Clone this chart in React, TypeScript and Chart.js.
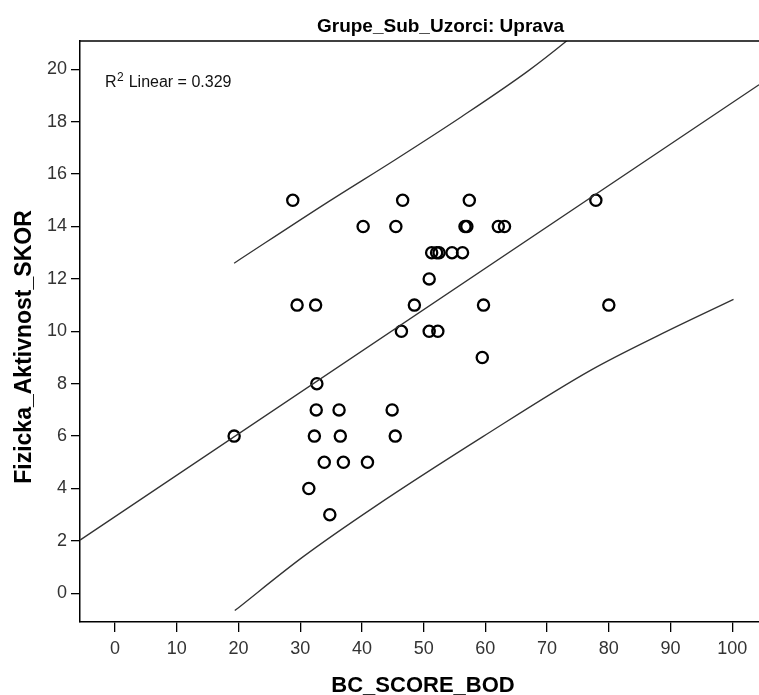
import React, { useEffect, useRef } from "react";
import { Chart, registerables } from "chart.js";

Chart.register(...registerables);

// ---- data ----
const scoreBod = [
  28.8, 46.6, 57.4, 77.9, 40.2, 45.5, 56.7, 57.0, 62.1, 63.1, 51.3, 52.1, 52.5,
  54.6, 56.3, 50.9, 29.5, 32.5, 48.5, 59.7, 80.0, 46.4, 50.9, 52.3, 59.5, 32.7,
  32.6, 36.3, 44.9, 19.3, 32.3, 36.5, 45.4, 33.9, 37.0, 40.9, 31.4, 34.8,
];
const aktivnostSkor = [
  15, 15, 15, 15, 14, 14, 14, 14, 14, 14, 13, 13, 13, 13, 13, 12, 11, 11, 11,
  11, 11, 10, 10, 10, 9, 8, 7, 7, 7, 6, 6, 6, 6, 5, 5, 5, 4, 3,
];

const fitX = [-5.67, 104.33];
const fitY = [2.03, 19.41];

const upperX = [19.3, 34.6, 45.4, 56.2, 67.0, 73.2, 74.0];
const upperY = [12.6, 14.95, 16.55, 18.2, 19.95, 21.09, 21.25];

const lowerX = [19.4, 30.5, 42.1, 59.6, 77.1, 88.7, 100.2];
const lowerY = [-0.66, 1.4, 3.31, 5.98, 8.52, 9.92, 11.22];

const xTicks = [0, 10, 20, 30, 40, 50, 60, 70, 80, 90, 100];
const yTicks = [0, 2, 4, 6, 8, 10, 12, 14, 16, 18, 20];

const chartTitle = "Grupe_Sub_Uzorci: Uprava";
const xTitle = "BC_SCORE_BOD";
const yTitle = "Fizicka_Aktivnost_SKOR";
const r2Label = "0.329";

const FONT = "'Liberation Sans', Arial, sans-serif";

const pts = (xs: number[], ys: number[]) => xs.map((x, i) => ({ x, y: ys[i] }));

const textPlugin = {
  id: "spssText",
  afterDraw(chart: any) {
    const { ctx, chartArea } = chart;
    ctx.save();
    // top frame line
    ctx.strokeStyle = "#000";
    ctx.lineWidth = 1.5;
    ctx.beginPath();
    ctx.moveTo(chartArea.left, chartArea.top);
    ctx.lineTo(chartArea.right, chartArea.top);
    ctx.stroke();

    ctx.fillStyle = "#000";
    // title
    ctx.font = `bold 19px ${FONT}`;
    ctx.textAlign = "center";
    ctx.textBaseline = "alphabetic";
    ctx.fillText(chartTitle, 440.5, 31.5);
    // x title
    ctx.font = `bold 22px ${FONT}`;
    ctx.fillText(xTitle, 423, 691.5);
    // y title
    ctx.save();
    ctx.translate(31, 347);
    ctx.rotate(-Math.PI / 2);
    ctx.font = `bold 23px ${FONT}`;
    ctx.fillText(yTitle, 0, 0);
    ctx.restore();
    // R^2 label
    ctx.textAlign = "left";
    ctx.font = `16px ${FONT}`;
    ctx.fillStyle = "#111";
    let x = 105;
    const base = 86.5;
    ctx.fillText("R", x, base);
    x += ctx.measureText("R").width + 0.5;
    ctx.font = `12px ${FONT}`;
    ctx.fillText("2", x, base - 6);
    x += ctx.measureText("2").width + 0.5;
    ctx.font = `16px ${FONT}`;
    ctx.fillText(" Linear = " + r2Label, x, base);
    ctx.restore();
  },
};

export default function App() {
  const ref = useRef<HTMLCanvasElement | null>(null);

  useEffect(() => {
    if (!ref.current) return;
    const lineStyle = {
      showLine: true,
      borderColor: "#333",
      borderWidth: 1.3,
      pointRadius: 0,
      pointHoverRadius: 0,
      fill: false,
      cubicInterpolationMode: "monotone" as const,
    };
    const chart = new Chart(ref.current, {
      type: "scatter",
      data: {
        datasets: [
          { ...lineStyle, data: pts(fitX, fitY) },
          { ...lineStyle, data: pts(upperX, upperY) },
          { ...lineStyle, data: pts(lowerX, lowerY) },
          {
            data: pts(scoreBod, aktivnostSkor),
            showLine: false,
            pointRadius: 5.6,
            pointBorderWidth: 2.3,
            pointBorderColor: "#000",
            pointBackgroundColor: "rgba(0,0,0,0)",
          },
        ],
      },
      options: {
        responsive: false,
        animation: false,
        events: [],
        layout: { autoPadding: false, padding: { top: 41, left: 0, right: 0, bottom: 0 } },
        plugins: {
          legend: { display: false },
          tooltip: { enabled: false },
          title: { display: false },
        },
        scales: {
          x: {
            type: "linear",
            min: -5.67,
            max: 104.33,
            afterFit: (s: any) => {
              s.height = 73;
              s.paddingLeft = 0;
              s.paddingRight = 0;
            },
            afterBuildTicks: (s: any) => {
              s.ticks = xTicks.map((v) => ({ value: v }));
            },
            grid: {
              drawOnChartArea: false,
              drawTicks: true,
              tickLength: 10,
              color: "#000",
              lineWidth: 1.3,
            },
            border: { display: true, color: "#000", width: 1.5 },
            ticks: {
              color: "#333",
              padding: 6,
              font: { family: FONT, size: 18 },
              callback: (v: any) => String(v),
            },
          },
          y: {
            type: "linear",
            min: -1.095,
            max: 21.08,
            afterFit: (s: any) => {
              s.width = 80;
              s.paddingTop = 0;
              s.paddingBottom = 0;
            },
            afterBuildTicks: (s: any) => {
              s.ticks = yTicks.map((v) => ({ value: v }));
            },
            grid: {
              drawOnChartArea: false,
              drawTicks: true,
              tickLength: 9,
              color: "#000",
              lineWidth: 1.3,
            },
            border: { display: true, color: "#000", width: 1.5 },
            ticks: {
              color: "#333",
              padding: 4,
              font: { family: FONT, size: 18 },
              callback: (v: any) => String(v),
            },
          },
        },
      },
      plugins: [textPlugin],
    } as any);
    return () => chart.destroy();
  }, []);

  return (
    <div style={{ position: "fixed", left: 0, top: 0, width: 759, height: 695, background: "#fff" }}>
      <canvas ref={ref} width={759} height={695} style={{ display: "block" }} />
    </div>
  );
}
